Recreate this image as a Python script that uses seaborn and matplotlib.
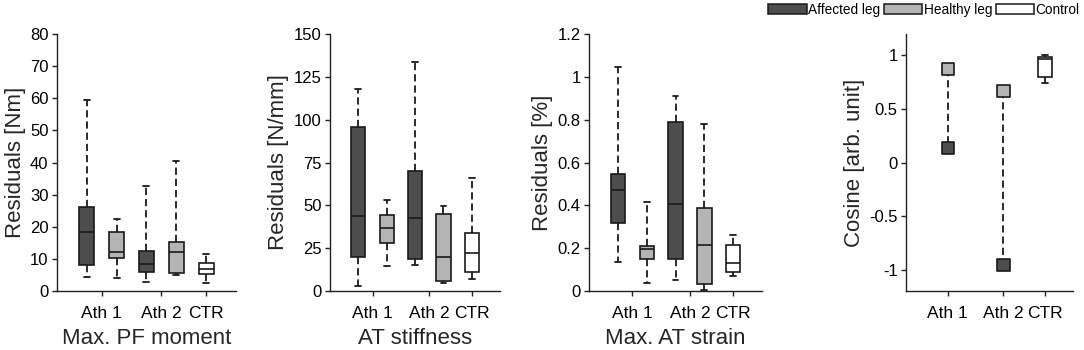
import numpy as np
import pandas as pd
import matplotlib
matplotlib.use('Agg')
import matplotlib.pyplot as plt
from matplotlib.patches import Patch
from matplotlib.ticker import FuncFormatter
import seaborn as sns

# one box per entry: Ath 1 affected/healthy, Ath 2 affected/healthy, control
groups = ['Ath 1', 'Ath 1', 'Ath 2', 'Ath 2', 'CTR']
legs = ['Affected leg', 'Healthy leg', 'Affected leg', 'Healthy leg', 'Control']

# five number summaries: low whisker, q1, median, q3, high whisker
pf_moment = [[4.4, 8.0, 18.5, 26.1, 59.6],
             [3.9, 10.3, 12.0, 18.4, 22.4],
             [2.8, 5.9, 8.3, 12.6, 32.8],
             [5.0, 5.7, 12.1, 15.2, 40.6],
             [2.6, 5.3, 6.7, 8.8, 11.4]]
at_stiffness = [[3.1, 20.1, 43.5, 95.7, 117.9],
                [14.6, 28.3, 37.0, 44.2, 53.2],
                [15.2, 18.7, 42.5, 69.8, 133.7],
                [4.5, 5.7, 19.7, 44.8, 49.7],
                [7.0, 10.9, 22.0, 34.1, 65.9]]
at_strain = [[0.134, 0.316, 0.474, 0.547, 1.044],
             [0.037, 0.150, 0.195, 0.210, 0.415],
             [0.051, 0.150, 0.408, 0.789, 0.910],
             [0.003, 0.034, 0.215, 0.387, 0.779],
             [0.070, 0.089, 0.131, 0.214, 0.263]]

# cosine panel: single values for the athletes, box for controls
cos_groups = ['Ath 1', 'Ath 2']
cos_healthy = [0.876, 0.668]
cos_affected = [0.137, -0.957]
cos_ctr = [0.74, 0.80, 0.97, 0.99, 1.00]

palette = {'Affected leg': '#4d4d4d', 'Healthy leg': '#b4b4b4', 'Control': '#ffffff'}

sns.set_theme(style='ticks')
plt.rcParams['font.family'] = ['Liberation Sans', 'DejaVu Sans']
plt.rcParams.update({'axes.linewidth': 1.0, 'axes.edgecolor': '#222222',
                     'xtick.major.size': 3.6, 'ytick.major.size': 3.6,
                     'xtick.major.width': 1, 'ytick.major.width': 1,
                     'xtick.major.pad': 7, 'ytick.major.pad': 2.5,
                     'xtick.labelsize': 12.5, 'ytick.labelsize': 12,
                     'axes.labelsize': 16, 'text.color': 'black',
                     'xtick.color': '#222222', 'ytick.color': '#222222',
                     'xtick.labelcolor': 'black', 'ytick.labelcolor': 'black'})

positions = np.arange(1, len(groups) + 1)
tick_pos = [positions[[g == u for g in groups]].mean() for u in dict.fromkeys(groups)]
tick_lab = list(dict.fromkeys(groups))
fmt = FuncFormatter(lambda v, p: f'{v:g}')
dash = (0, (4, 2.2))


def box_df(summaries, pos, leg):
    rows = []
    for s, p, l in zip(summaries, pos, leg):
        for v in s:
            rows.append({'pos': p, 'leg': l, 'value': v})
    return pd.DataFrame(rows)


def draw_boxes(ax, df):
    sns.boxplot(data=df, x='pos', y='value', hue='leg', palette=palette,
                native_scale=True, dodge=False, width=0.5, whis=(0, 100),
                saturation=1, linecolor='#1a1a1a', linewidth=1.2,
                showfliers=False, whiskerprops=dict(linestyle=dash, linewidth=1.3),
                capprops=dict(linewidth=1.3), capwidths=0.2,
                legend=False, ax=ax)


def finish(ax, ylabel, xlabel, ylim, yticks):
    ax.set_xlim(0, 6)
    ax.set_ylim(*ylim)
    ax.set_yticks(yticks)
    ax.yaxis.set_major_formatter(fmt)
    ax.set_xticks(tick_pos)
    ax.set_xticklabels(tick_lab)
    ax.set_ylabel(ylabel, labelpad=3)
    ax.set_xlabel(xlabel, labelpad=5)
    sns.despine(ax=ax)


fig = plt.figure(figsize=(10.84, 3.5), dpi=100)
bottom, height = 0.1686, 0.734
ax1 = fig.add_axes([0.0526, bottom, 0.165, height])
ax2 = fig.add_axes([0.3044, bottom, 0.157, height])
ax3 = fig.add_axes([0.5434, bottom, 0.1596, height])
ax4 = fig.add_axes([0.8358, bottom, 0.154, height])

draw_boxes(ax1, box_df(pf_moment, positions, legs))
finish(ax1, 'Residuals [Nm]', 'Max. PF moment', (0, 80), np.arange(0, 81, 10))

draw_boxes(ax2, box_df(at_stiffness, positions, legs))
finish(ax2, 'Residuals [N/mm]', 'AT stiffness', (0, 150), np.arange(0, 151, 25))

draw_boxes(ax3, box_df(at_strain, positions, legs))
finish(ax3, 'Residuals [%]', 'Max. AT strain', (0, 1.2), np.arange(0, 1.21, 0.2))

# cosine panel
pts = pd.DataFrame({'pos': tick_pos[:2] * 2,
                    'group': cos_groups * 2,
                    'leg': ['Healthy leg'] * 2 + ['Affected leg'] * 2,
                    'val': cos_healthy + cos_affected})
sns.lineplot(data=pts, x='pos', y='val', units='group', estimator=None, sort=False,
             color='#1a1a1a', linestyle=dash, linewidth=1.3, legend=False, ax=ax4)
sns.scatterplot(data=pts, x='pos', y='val', hue='leg', palette=palette, marker='s',
                s=80, edgecolor='#1a1a1a', linewidth=1.2, legend=False, zorder=3, ax=ax4)
draw_boxes(ax4, box_df([cos_ctr], [tick_pos[2]], ['Control']))
finish(ax4, 'Cosine [arb. unit]', '', (-1.2, 1.2), np.arange(-1, 1.01, 0.5))

handles = [Patch(facecolor=palette[k], edgecolor='#1a1a1a', linewidth=1.1) for k in palette]
fig.legend(handles, list(palette), loc='upper right', bbox_to_anchor=(0.9985, 1.0),
           ncol=3, frameon=False, fontsize=9.8, handlelength=2.8, handleheight=0.85,
           handletextpad=0.1, columnspacing=0.3, borderpad=0.2, borderaxespad=0.0)

fig.savefig('out.png', dpi=100)
